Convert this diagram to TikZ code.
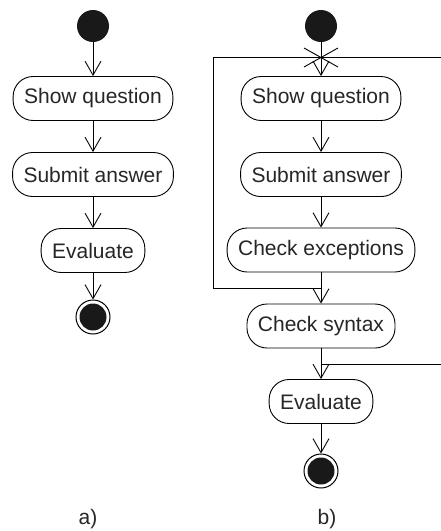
\documentclass[tikz,border=0pt]{standalone}
\usepackage{fontspec}
\setmainfont{Liberation Sans}
\usetikzlibrary{arrows.meta}
\begin{document}
\begin{tikzpicture}[x=1pt,y=-1pt,
  act/.style={draw, rounded corners=20pt, minimum height=44pt, inner xsep=11pt, font=\fontsize{21}{25}\selectfont, line width=0.9pt, text=black!85},
  initnode/.style={circle, fill=black!90, minimum size=32pt, inner sep=0pt},
  finnode/.style={circle, draw, line width=1pt, minimum size=34pt, inner sep=0pt,
    path picture={\fill[black!90] (path picture bounding box.center) circle (13.5pt);}},
  flow/.style={-{Straight Barb[length=14pt,width=16pt]}, line width=0.9pt},
  plain/.style={line width=0.9pt},
  lbl/.style={font=\fontsize{21}{25}\selectfont, text=black!85}]
\useasboundingbox (0,0) rectangle (441,531);
% a)
\node[initnode] (i1) at (93,26) {};
\node[act] (sq1) at (93,98.5) {Show question};
\node[act] (sa1) at (93,174.5) {Submit answer};
\node[act] (ev1) at (93,250.5) {Evaluate};
\node[finnode] (f1) at (93,317) {};
\draw[flow] (i1) -- (sq1);
\draw[flow] (sq1) -- (sa1);
\draw[flow] (sa1) -- (ev1);
\draw[flow] (ev1) -- (f1);
\node[lbl] (la) at (88,519) {a)};
% b)
\node[initnode] (i2) at (321,26) {};
\coordinate (m1) at (321,57.5);
\node[act] (sq2) at (321,98.5) {Show question};
\node[act] (sa2) at (321,174.5) {Submit answer};
\node[act] (ce) at (321,250) {Check exceptions};
\coordinate (m2) at (321,288);
\node[act] (cs) at (321,326) {Check syntax};
\coordinate (m3) at (321,364);
\node[act] (ev2) at (321,401.5) {Evaluate};
\node[finnode] (f2) at (321,471) {};
\coordinate (l1) at (213,288);
\coordinate (l2) at (213,57.5);
\coordinate (r1) at (441,57.5);
\coordinate (r2) at (441,364);
\draw[plain] (i2) -- (m1);
\draw[plain] (m1) ++(-17,-9.5) -- ++(34,19);
\draw[plain] (m1) ++(17,-9.5) -- ++(-34,19);
\draw[flow] (m1) -- (sq2);
\draw[flow] (sq2) -- (sa2);
\draw[flow] (sa2) -- (ce);
\draw[plain] (ce) -- (m2);
\draw[flow] (m2) -- (cs);
\draw[plain] (m2) -- (l1) -- (l2) -- (r1);
\draw[plain] (cs) -- (m3);
\draw[flow] (m3) -- (ev2);
\draw[plain] (m3) -- (r2);
\draw[flow] (ev2) -- (f2);
\node[lbl] (lb) at (327,519) {b)};
\end{tikzpicture}
\end{document}
